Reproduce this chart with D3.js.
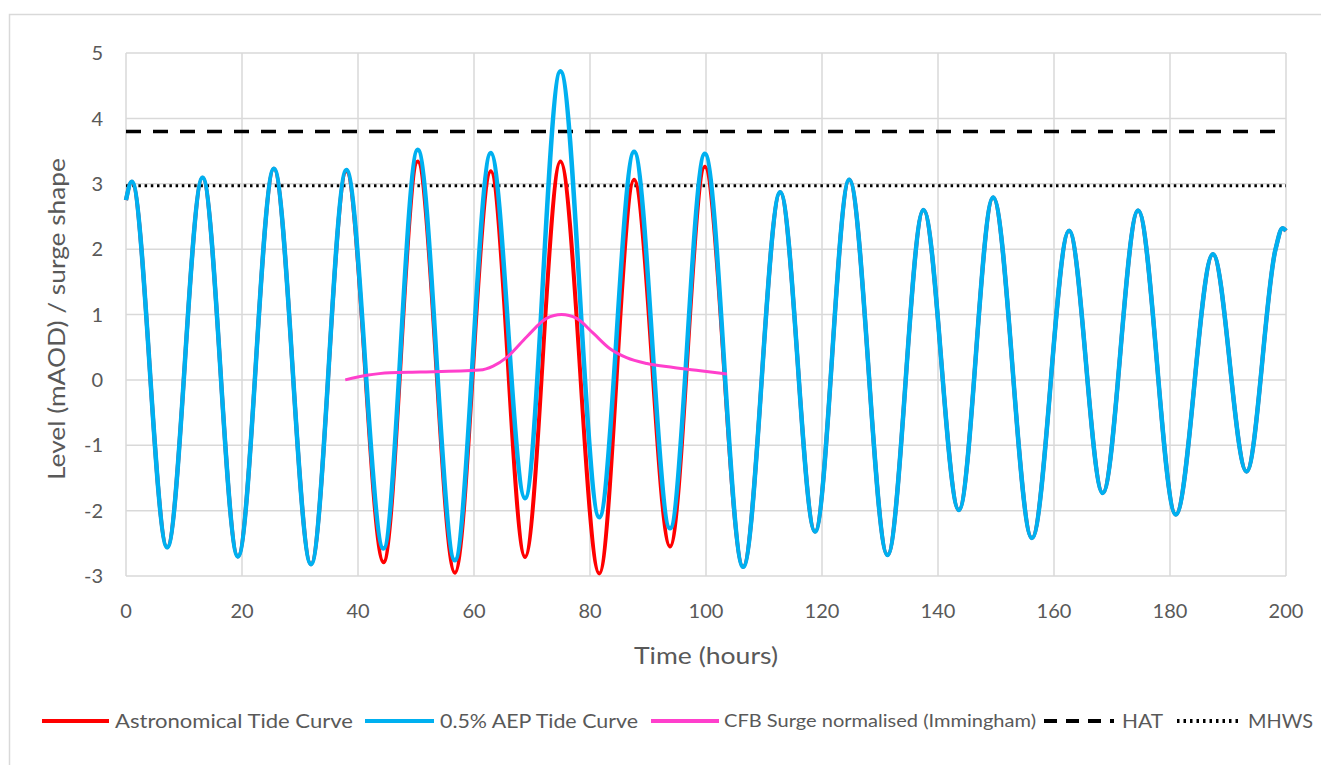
<html>

<head>
    <script src="https://d3js.org/d3.v7.min.js"></script>
    <style>
        body { margin: 0; background: #fff; }
        text { font-family: Lato, "Open Sans", sans-serif; fill: #595959; }
    </style>
</head>

<body>
    <svg id="chart" width="1321" height="765"></svg>

    <script>
        // time (hours) of each turning point of the tide curves
        const tideTime = [0, 1.0, 7.1, 13.2, 19.3, 25.5, 31.9, 38.0, 44.4, 50.3, 56.7, 62.9, 68.8, 74.9,
            81.6, 87.6, 93.8, 99.8, 106.4, 112.8, 118.8, 124.7, 131.3, 137.5, 143.6, 149.5, 156.2,
            162.6, 168.4, 174.5, 181.0, 187.4, 193.2, 198.2, 199.4, 200];

        // 0.5% AEP tide (blue)
        const aepLevel = [2.75, 3.03, -2.56, 3.09, -2.70, 3.23, -2.82, 3.21, -2.58, 3.52, -2.76, 3.47, -1.81, 4.72,
            -2.10, 3.49, -2.27, 3.46, -2.86, 2.87, -2.32, 3.06, -2.68, 2.60, -1.99, 2.79, -2.42,
            2.28, -1.73, 2.59, -2.06, 1.92, -1.40, 2.00, 2.32, 2.28];

        // astronomical tide (red) - same as blue outside the surge window
        const astroLevel = [2.75, 3.03, -2.56, 3.09, -2.70, 3.23, -2.82, 3.19, -2.79, 3.34, -2.95, 3.19, -2.71, 3.34,
            -2.96, 3.06, -2.55, 3.26, -2.86, 2.87, -2.32, 3.06, -2.68, 2.60, -1.99, 2.79, -2.42,
            2.28, -1.73, 2.59, -2.06, 1.92, -1.40, 2.00, 2.32, 2.28];

        // CFB surge shape, normalised
        const surgeTime = [37.8, 41.5, 45.5, 50.7, 61.0, 63.3, 65.6, 69.1, 72.5, 75.1, 77.7, 80.6, 83.4, 86.3, 89.8, 94.4, 99.0, 103.6];
        const surgeLevel = [0.0, 0.07, 0.11, 0.12, 0.15, 0.21, 0.34, 0.66, 0.94, 1.0, 0.94, 0.71, 0.48, 0.34, 0.25, 0.19, 0.14, 0.09];

        const HAT = 3.8;
        const MHWS = 2.97;

        const xTicks = [0, 20, 40, 60, 80, 100, 120, 140, 160, 180, 200];
        const yTicks = [-3, -2, -1, 0, 1, 2, 3, 4, 5];

        const legendItems = [
            { label: "Astronomical Tide Curve", color: "#ff0000", dash: null, x0: 42, x1: 109, tx: 115, len: 238, size: 20 },
            { label: "0.5% AEP Tide Curve", color: "#00b0f0", dash: null, x0: 365, x1: 434, tx: 440, len: 198, size: 20 },
            { label: "CFB Surge normalised (Immingham)", color: "#ff3fcc", dash: null, x0: 651, x1: 719, tx: 724, len: 312, size: 18 },
            { label: "HAT", color: "#000", dash: "13,9", x0: 1044, x1: 1114, tx: 1122, len: 41, size: 20 },
            { label: "MHWS", color: "#000", dash: "2.5,4", x0: 1177, x1: 1238, tx: 1248, len: 65, size: 20 }
        ];

        const svg = d3.select("#chart");

        // faint outer chart border
        svg.append("path")
            .attr("d", "M9.5,765 V14.5 H1321")
            .attr("fill", "none")
            .attr("stroke", "#d9d9d9")
            .attr("stroke-width", 1.5);

        const x = d3.scaleLinear().domain([0, 200]).range([126, 1286]);
        const y = d3.scaleLinear().domain([-3, 5]).range([576, 53]);

        // grid
        svg.append("g")
            .selectAll("line")
            .data(xTicks)
            .join("line")
            .attr("x1", d => x(d)).attr("x2", d => x(d))
            .attr("y1", y(5)).attr("y2", y(-3))
            .attr("stroke", "#d9d9d9").attr("stroke-width", 1.5);

        svg.append("g")
            .selectAll("line")
            .data(yTicks)
            .join("line")
            .attr("x1", x(0)).attr("x2", x(200))
            .attr("y1", d => y(d)).attr("y2", d => y(d))
            .attr("stroke", "#d9d9d9").attr("stroke-width", 1.5);

        // tick labels
        svg.append("g")
            .selectAll("text")
            .data(yTicks)
            .join("text")
            .attr("x", 103)
            .attr("y", d => y(d))
            .attr("dy", "0.36em")
            .attr("text-anchor", "end")
            .style("font-size", "20px")
            .text(d => d);

        svg.append("g")
            .selectAll("text")
            .data(xTicks)
            .join("text")
            .attr("x", d => x(d))
            .attr("y", 618)
            .attr("text-anchor", "middle")
            .style("font-size", "20px")
            .text(d => d);

        svg.append("text")
            .attr("x", 634).attr("y", 664)
            .attr("textLength", 144)
            .attr("lengthAdjust", "spacingAndGlyphs")
            .style("font-size", "23px")
            .text("Time (hours)");

        svg.append("text")
            .attr("transform", "translate(65,480) rotate(-90)")
            .attr("textLength", 322)
            .attr("lengthAdjust", "spacingAndGlyphs")
            .style("font-size", "23px")
            .text("Level (mAOD) / surge shape");

        // reference levels
        svg.append("line")
            .attr("x1", x(0)).attr("x2", x(200))
            .attr("y1", y(HAT)).attr("y2", y(HAT))
            .attr("stroke", "#000").attr("stroke-width", 3.5)
            .attr("stroke-dasharray", "15,12");

        svg.append("line")
            .attr("x1", x(0)).attr("x2", x(200))
            .attr("y1", y(MHWS)).attr("y2", y(MHWS))
            .attr("stroke", "#000").attr("stroke-width", 3)
            .attr("stroke-dasharray", "2.5,3.7");

        const line = d3.line()
            .x(d => x(d[0]))
            .y(d => y(d[1]))
            .curve(d3.curveMonotoneX);

        svg.append("path")
            .datum(tideTime.map((t, i) => [t, astroLevel[i]]))
            .attr("fill", "none")
            .attr("stroke", "#ff0000")
            .attr("stroke-width", 4)
            .attr("d", line);

        svg.append("path")
            .datum(tideTime.map((t, i) => [t, aepLevel[i]]))
            .attr("fill", "none")
            .attr("stroke", "#00b0f0")
            .attr("stroke-width", 4.5)
            .attr("stroke-linejoin", "round")
            .attr("d", line);

        svg.append("path")
            .datum(surgeTime.map((t, i) => [t, surgeLevel[i]]))
            .attr("fill", "none")
            .attr("stroke", "#ff3fcc")
            .attr("stroke-width", 3)
            .attr("d", line);

        // legend
        const lg = svg.append("g")
            .selectAll("g")
            .data(legendItems)
            .join("g");

        lg.append("line")
            .attr("x1", d => d.x0).attr("x2", d => d.x1)
            .attr("y1", 721).attr("y2", 721)
            .attr("stroke", d => d.color)
            .attr("stroke-width", 4)
            .attr("stroke-dasharray", d => d.dash);

        lg.append("text")
            .attr("x", d => d.tx)
            .attr("y", 721)
            .attr("dy", "0.36em")
            .attr("textLength", d => d.len)
            .attr("lengthAdjust", "spacingAndGlyphs")
            .style("font-size", d => d.size + "px")
            .text(d => d.label);
    </script>
</body>

</html>
